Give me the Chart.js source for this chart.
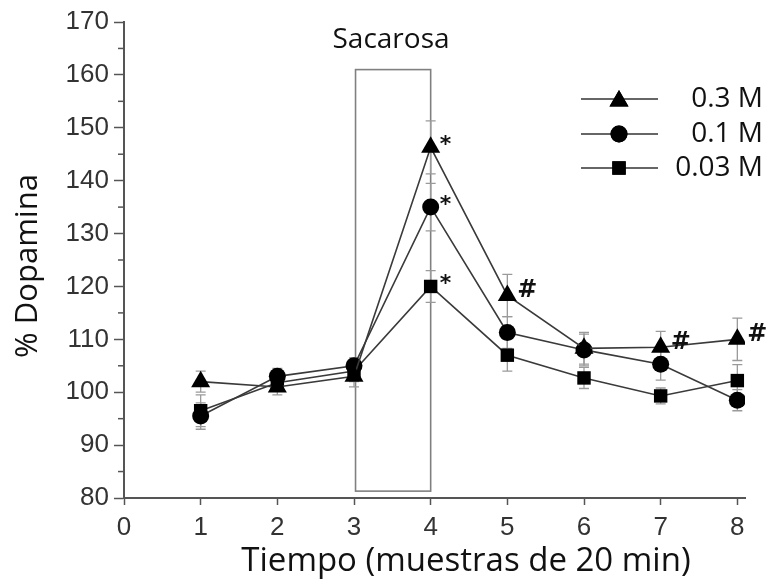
<!DOCTYPE html>
<html>
<head>
<meta charset="utf-8">
<script src="https://cdn.jsdelivr.net/npm/chart.js@4.4.0/dist/chart.umd.min.js"></script>
<style>
  html, body { margin: 0; background: #fff; }
  #wrap { width: 767px; height: 585px; }
</style>
</head>
<body>
<div id="wrap"><canvas id="c"></canvas></div>
<script>
// muestras de 20 min (eje x)
const muestras = [1, 2, 3, 4, 5, 6, 7, 8];
const concentraciones = ['0.3 M', '0.1 M', '0.03 M'];

// % dopamina
const dopa03 = [102, 101, 103, 146.3, 118.3, 108.3, 108.5, 110];
const dopa01 = [95.5, 103, 105, 135, 111.3, 108, 105.3, 98.5];
const dopa003 = [96.5, 101.8, 104, 120, 107, 102.7, 99.3, 102.2];

// error estandar
const err03 = [2, 1.5, 2, 5, 4, 3, 3, 4];
const err01 = [2.5, 1.5, 1.5, 4.5, 3, 3, 3, 2];
const err003 = [3, 1.5, 2, 3, 3, 2, 1.5, 3];

// marcas de significancia
const marcas03 = ['', '', '', '*', '#', '', '#', '#'];
const marcas01 = ['', '', '', '*', '', '', '', ''];
const marcas003 = ['', '', '', '*', '', '', '', ''];

// periodo de sacarosa (x inicio/fin, y inferior/superior)
const sacarosaX = [3.02, 4.0];
const sacarosaY = [81.3, 161];

const TEXT_FONT = '"Open Sans", "Noto Sans", sans-serif';
const TICK_FONT = '"Liberation Sans", Arial, sans-serif';

function toPoints(values) {
  return values.map((v, i) => ({ x: muestras[i], y: v }));
}

const puntos = ['triangle', 'circle', 'rect'];
const radios = [11, 8.5, 9.5];
const valores = [dopa03, dopa01, dopa003];
const errores = [err03, err01, err003];
const marcas = [marcas03, marcas01, marcas003];

const extras = {
  id: 'extras',
  beforeDatasetsDraw(chart) {
    const { ctx, scales: { x, y } } = chart;
    ctx.save();
    // caja de sacarosa
    const bx0 = x.getPixelForValue(sacarosaX[0]);
    const bx1 = x.getPixelForValue(sacarosaX[1]);
    const by0 = y.getPixelForValue(sacarosaY[1]);
    const by1 = y.getPixelForValue(sacarosaY[0]);
    ctx.strokeStyle = '#808080';
    ctx.lineWidth = 1.6;
    ctx.strokeRect(bx0, by0, bx1 - bx0, by1 - by0);
    // barras de error
    ctx.strokeStyle = '#9a9a9a';
    ctx.lineWidth = 1.3;
    valores.forEach((serie, s) => {
      serie.forEach((v, i) => {
        const px = x.getPixelForValue(muestras[i]);
        const top = y.getPixelForValue(v + errores[s][i]);
        const bot = y.getPixelForValue(v - errores[s][i]);
        ctx.beginPath();
        ctx.moveTo(px, top); ctx.lineTo(px, bot);
        ctx.moveTo(px - 5, top); ctx.lineTo(px + 5, top);
        ctx.moveTo(px - 5, bot); ctx.lineTo(px + 5, bot);
        ctx.stroke();
      });
    });
    ctx.restore();
  },
  afterDraw(chart) {
    const { ctx, scales: { x, y }, chartArea } = chart;
    ctx.save();
    // ticks menores del eje y
    ctx.strokeStyle = '#555';
    ctx.lineWidth = 1.5;
    for (let v = 85; v < 170; v += 10) {
      const py = y.getPixelForValue(v);
      ctx.beginPath();
      ctx.moveTo(chartArea.left - 6, py);
      ctx.lineTo(chartArea.left, py);
      ctx.stroke();
    }
    // marcas * y #
    ctx.fillStyle = '#111';
    ctx.textBaseline = 'middle';
    ctx.textAlign = 'left';
    marcas.forEach((serie, s) => {
      serie.forEach((m, i) => {
        if (!m) return;
        const px = x.getPixelForValue(muestras[i]);
        const py = y.getPixelForValue(valores[s][i]);
        if (m === '*') {
          ctx.font = 'bold 22px "DejaVu Sans", sans-serif';
          ctx.fillText(m, px + 9, py - 2);
        } else {
          ctx.font = 'bold 24px "DejaVu Sans", sans-serif';
          ctx.fillText(m, px + 10, py - 5);
        }
      });
    });
    // leyenda
    const legendY = [99, 134, 168];
    concentraciones.forEach((nombre, s) => {
      const ly = legendY[s];
      ctx.strokeStyle = '#333';
      ctx.lineWidth = 1.6;
      ctx.beginPath();
      ctx.moveTo(581, ly); ctx.lineTo(658, ly);
      ctx.stroke();
      ctx.fillStyle = '#000';
      Chart.helpers.drawPoint(ctx, { pointStyle: puntos[s], radius: radios[s], borderWidth: 0 }, 619, ly + (s === 0 ? 2 : 0));
      ctx.fill();
      ctx.fillStyle = '#111';
      ctx.font = '28px ' + TEXT_FONT;
      ctx.textAlign = 'right';
      ctx.textBaseline = 'middle';
      ctx.fillText(nombre, 763, ly);
    });
    // textos
    ctx.fillStyle = '#111';
    ctx.textAlign = 'center';
    ctx.textBaseline = 'middle';
    ctx.font = '28px ' + TEXT_FONT;
    ctx.fillText('Sacarosa', 391, 40);
    ctx.font = '33px ' + TEXT_FONT;
    ctx.fillText('Tiempo (muestras de 20 min)', 466, 562);
    ctx.translate(28, 266);
    ctx.rotate(-Math.PI / 2);
    ctx.font = '31px ' + TEXT_FONT;
    ctx.fillText('% Dopamina', 0, 0);
    ctx.restore();
  }
};

new Chart(document.getElementById('c'), {
  type: 'line',
  data: {
    datasets: valores.map((serie, s) => ({
      label: concentraciones[s],
      data: toPoints(serie),
      borderColor: '#3a3a3a',
      borderWidth: 1.6,
      pointStyle: puntos[s],
      pointRadius: radios[s],
      pointBackgroundColor: '#000',
      pointBorderWidth: 0,
      tension: 0,
      fill: false
    }))
  },
  options: {
    responsive: true,
    maintainAspectRatio: false,
    animation: false,
    layout: { padding: { top: 22, right: 22, left: 0, bottom: 0 } },
    plugins: {
      legend: { display: false },
      tooltip: { enabled: false }
    },
    scales: {
      x: {
        type: 'linear',
        min: 0,
        max: 8.1,
        afterFit(s) { s.height = 87; },
        border: { color: '#555', width: 2 },
        grid: { drawOnChartArea: false, tickLength: 7, color: '#555', tickWidth: 1.5 },
        ticks: {
          stepSize: 1,
          includeBounds: false,
          padding: 7,
          color: '#333',
          font: { family: TICK_FONT, size: 26 }
        }
      },
      y: {
        min: 80,
        max: 170,
        afterFit(s) { s.width = 124; },
        border: { color: '#555', width: 2 },
        grid: { drawOnChartArea: false, tickLength: 10, color: '#555', tickWidth: 1.5 },
        ticks: {
          stepSize: 10,
          padding: 5,
          color: '#333',
          font: { family: TICK_FONT, size: 26 }
        }
      }
    }
  },
  plugins: [extras]
});
</script>
</body>
</html>
